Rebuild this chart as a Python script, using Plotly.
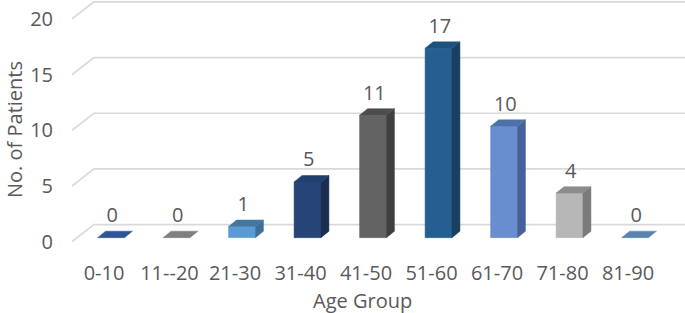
import plotly.graph_objects as go

categories = ["0-10", "11--20", "21-30", "31-40", "41-50", "51-60", "61-70", "71-80", "81-90"]
patients = [0, 0, 1, 5, 11, 17, 10, 4, 0]
y_ticks = [0, 5, 10, 15, 20]

front_colors = ["#2F5597", "#7F7F7F", "#5B9BD5", "#264478", "#636363", "#255E91", "#698ED0", "#B7B7B7", "#5A84AF"]
side_colors = ["#223F70", "#5E5E5E", "#3E6E9C", "#1A2E52", "#3F3F3F", "#193F61", "#44619A", "#7B7B7B", "#40638A"]
top_colors = ["#2F5597", "#7F7F7F", "#44779F", "#22406F", "#4D4D4D", "#1F5180", "#4F70AA", "#8C8C8C", "#5A84AF"]

TXT = "#595959"
FONT = "Open Sans"

# geometry (in data units)
x_min, x_max = -0.4885, 8.87
y_min, y_max = -0.3, 21.7
bar_dx, bar_dy = 0.107, 0.36      # bar plane offset from front plane
wall_dx, wall_dy = 0.335, 1.53    # back wall offset
w = 0.41                           # bar width
ddx, ddy = 0.122, 0.58            # bar depth

fig = go.Figure()

# 3D-style gridlines
for v in y_ticks:
    fig.add_trace(go.Scatter(
        x=[x_min, x_min + wall_dx, x_max], y=[v, v + wall_dy, v + wall_dy],
        mode="lines", line=dict(color="#D9D9D9", width=1.7),
        hoverinfo="skip", showlegend=False, cliponaxis=False))

def poly(xs, ys, color):
    fig.add_trace(go.Scatter(
        x=xs + [xs[0]], y=ys + [ys[0]], fill="toself", fillcolor=color,
        mode="lines", line=dict(color=color, width=0.5),
        hoverinfo="skip", showlegend=False))

for i, (cat, v) in enumerate(zip(categories, patients)):
    xc = i + bar_dx
    y0 = bar_dy
    xl, xr = xc - w / 2, xc + w / 2
    if v > 0:
        poly([xl, xr, xr, xl], [y0, y0, y0 + v, y0 + v], front_colors[i])
        poly([xr, xr + ddx, xr + ddx, xr], [y0, y0 + ddy, y0 + v + ddy, y0 + v], side_colors[i])
    poly([xl, xr, xr + ddx, xl + ddx], [y0 + v, y0 + v, y0 + v + ddy, y0 + v + ddy], top_colors[i])

# value labels
fig.add_trace(go.Scatter(
    x=[i + bar_dx + 0.02 for i in range(len(categories))],
    y=[v + bar_dy + 1.85 for v in patients],
    text=[str(v) for v in patients], mode="text", textposition="middle center",
    textfont=dict(family=FONT, size=20, color=TXT),
    hoverinfo="skip", showlegend=False, cliponaxis=False))

fig.update_layout(
    width=685, height=313,
    margin=dict(l=72, r=0, t=0, b=68),
    plot_bgcolor="white", paper_bgcolor="white",
    font=dict(family=FONT, size=20, color=TXT),
    xaxis=dict(range=[x_min, x_max], tickmode="array", tickvals=list(range(len(categories))),
               ticktext=categories, showgrid=False, zeroline=False, showline=False,
               ticks="", ticklabelstandoff=14, fixedrange=True,
               tickfont=dict(family=FONT, size=20, color=TXT)),
    yaxis=dict(range=[y_min, y_max], tickmode="array", tickvals=y_ticks,
               showgrid=False, zeroline=False, showline=False,
               ticks="", ticklabelstandoff=18, fixedrange=True,
               tickfont=dict(family=FONT, size=20, color=TXT)),
    annotations=[
        dict(text="Age Group", xref="paper", yref="paper", x=(362 - 72) / 613, y=(313 - 300 - 68) / 245,
             xanchor="center", yanchor="middle", showarrow=False,
             font=dict(family=FONT, size=20, color=TXT)),
        dict(text="No. of Patients", xref="paper", yref="paper", x=(15 - 72) / 613, y=(245 - 130) / 245,
             xanchor="center", yanchor="middle", textangle=-90, showarrow=False,
             font=dict(family=FONT, size=20, color=TXT)),
    ],
)

fig.write_html("out.html", config={"displayModeBar": False},
               post_script="document.body.style.margin='0px';document.body.style.overflow='hidden';")
